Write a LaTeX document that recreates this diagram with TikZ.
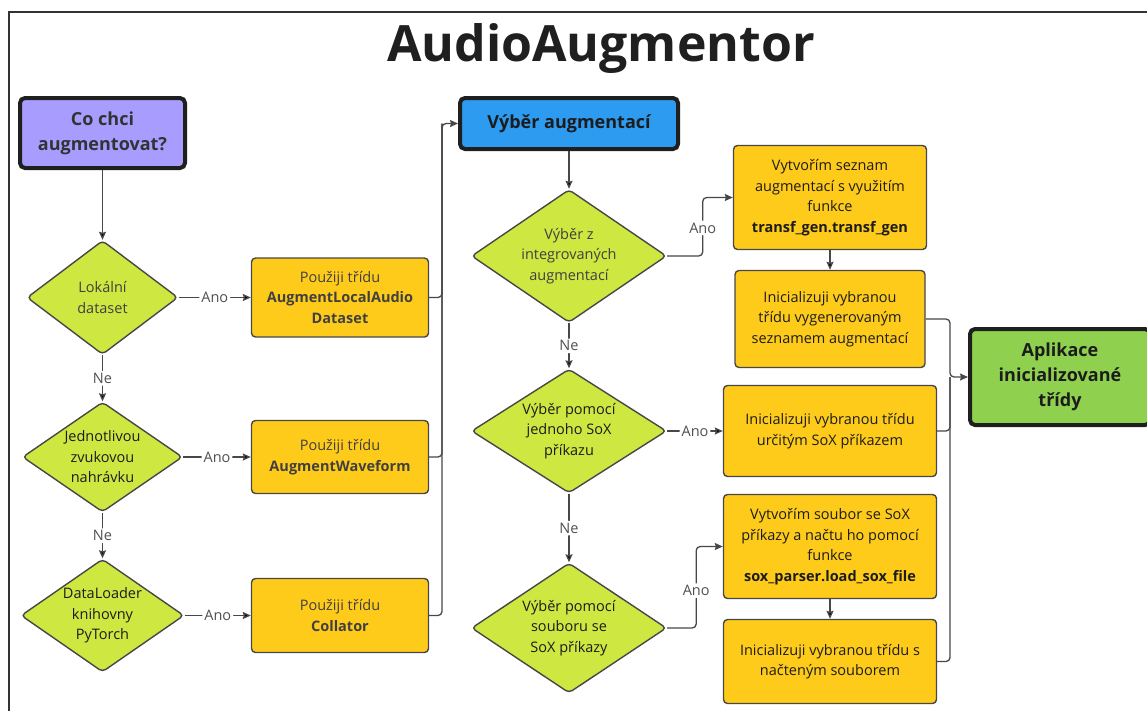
\documentclass[tikz,border=0pt]{standalone}
\usepackage{fontspec}
\setmainfont{Open Sans}
\usetikzlibrary{shapes.geometric}
\usetikzlibrary{arrows.meta}

\definecolor{qpurple}{HTML}{A89CFF}
\definecolor{selblue}{HTML}{2D9BF0}
\definecolor{outgreen}{HTML}{8FD14F}
\definecolor{boxyellow}{HTML}{FECB1A}
\definecolor{dgreen}{HTML}{CEE741}
\definecolor{linegray}{HTML}{474747}
\definecolor{txtgray}{HTML}{404040}
\definecolor{txtdark}{HTML}{1C1C1C}
\definecolor{lblgray}{HTML}{505050}

\tikzset{
  base/.style={font=\fontsize{14.5}{20.5}\selectfont, align=center, text=txtdark},
  box/.style={base, draw=linegray, line width=1.4pt, fill=boxyellow, rounded corners=4pt, inner sep=0pt},
  choice/.style={base, shape=diamond, aspect=1.45, draw=linegray, line width=1.4pt, fill=dgreen, rounded corners=4pt, inner sep=-6pt},
  head/.style={draw=black!88, line width=4pt, rounded corners=5pt, inner sep=0pt, align=center, text=txtdark, font=\bfseries\fontsize{18}{25}\selectfont},
  lbl/.style={fill=white, text=lblgray, inner sep=2pt, font=\fontsize{14.5}{16}\selectfont},
  flow/.style={draw=linegray, line width=1.3pt, rounded corners=4pt, -{Stealth[length=8pt,width=7pt,inset=1pt]}},
  merge/.style={draw=linegray, line width=1.3pt, rounded corners=4pt},
}

\begin{document}
\begin{tikzpicture}[x=1pt, y=-1pt]
  \useasboundingbox (0,0) rectangle (1147,710);
  \clip (0,0) rectangle (1147,710);
  \draw[line width=2pt, draw=black!80] (8.5,730) |- (1170,11.5);

  \node[anchor=base, text=black!88, font=\bfseries\fontsize{50}{60}\selectfont] (ttl) at (601,61) {AudioAugmentor};

  % left column
  \node[head, fill=qpurple, text=black!80, minimum width=165, minimum height=70] (q) at (102.5,133) {Co chci\\augmentovat?};
  \node[choice, text=txtgray, minimum width=151, minimum height=114] (d1) at (102.5,297.5) {Lokální\\dataset};
  \node[choice, minimum width=160, minimum height=110] (d2) at (102.5,457) {Jednotlivou\\zvukovou\\nahrávku};
  \node[choice, minimum width=163, minimum height=113] (d3) at (102.5,615.5) {DataLoader\\knihovny\\PyTorch};

  \node[box, text=txtgray, minimum width=177, minimum height=79] (b1) at (340,297.5) {Použiji třídu\\\textbf{AugmentLocalAudio}\\\textbf{Dataset}};
  \node[box, text=txtgray, minimum width=177, minimum height=73] (b2) at (340,457) {Použiji třídu\\\textbf{AugmentWaveform}};
  \node[box, text=txtgray, minimum width=177, minimum height=74] (b3) at (340,615.5) {Použiji třídu\\\textbf{Collator}};

  % middle column
  \node[head, fill=selblue, minimum width=218, minimum height=51] (sel) at (569,123.5) {Výběr augmentací};
  \node[choice, text=txtgray, minimum width=195, minimum height=133] (d4) at (569,256) {Výběr z\\integrovaných\\augmentací};
  \node[choice, minimum width=195, minimum height=124] (d5) at (569,431) {Výběr pomocí\\jednoho SoX\\příkazu};
  \node[choice, minimum width=195, minimum height=130] (d6) at (569,628) {Výběr pomocí\\souboru se\\SoX příkazy};

  % right column
  \node[box, minimum width=193, minimum height=104] (b4) at (830,197.5) {Vytvořím seznam\\augmentací s využitím\\funkce\\\textbf{transf\_gen.transf\_gen}};
  \node[box, minimum width=190, minimum height=97] (b5) at (830,319) {Inicializuji vybranou\\třídu vygenerovaným\\seznamem augmentací};
  \node[box, minimum width=213, minimum height=91] (b6) at (830,431) {Inicializuji vybranou třídu\\určitým SoX příkazem};
  \node[box, minimum width=213, minimum height=104] (b7) at (830,546.5) {Vytvořím soubor se SoX\\příkazy a načtu ho pomocí\\funkce\\\textbf{sox\_parser.load\_sox\_file}};
  \node[box, minimum width=213, minimum height=84] (b8) at (830,661.5) {Inicializuji vybranou třídu s\\načteným souborem};

  \node[head, fill=outgreen, minimum width=180, minimum height=96] (out) at (1060,377) {Aplikace\\inicializované\\třídy};

  \coordinate (jl) at (442,123.5);
  \coordinate (jr) at (950,377);

  \path[flow]
    (q) edge (d1)
    (d1) edge node[lbl] {Ne} (d2)
    (d2) edge node[lbl] {Ne} (d3)
    (d1) edge node[lbl] {Ano} (b1)
    (d2) edge node[lbl] {Ano} (b2)
    (d3) edge node[lbl] {Ano} (b3)
    (sel) edge (d4)
    (d4) edge node[lbl] {Ne} (d5)
    (d5) edge node[lbl] {Ne} (d6)
    (d5) edge node[lbl] {Ano} (b6)
    (b4) edge (b5)
    (b7) edge (b8);

  \draw[flow] (d4.east) -- ++(35.5,0) |- node[lbl, pos=0.24] {Ano} (b4.west);
  \draw[flow] (d6.east) -- ++(29,0) |- node[lbl, pos=0.23] {Ano} (b7.west);

  % merging lines
  \draw[merge] (b1.east) -| (jl);
  \draw[merge] (b2.east) -| (jl);
  \draw[flow] (b3.east) -| (jl) -- (sel.west);
  \draw[merge] (b6.east) -| (jr);
  \draw[merge] (b8.east) -| (jr);
  \draw[flow] (b5.east) -| (jr) -- (out.west);
\end{tikzpicture}
\end{document}
